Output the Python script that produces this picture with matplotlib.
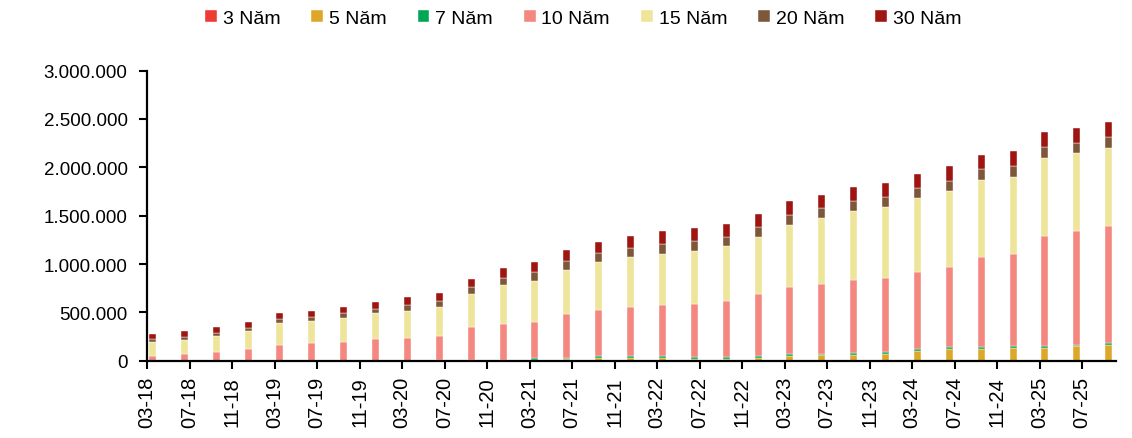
import numpy as np
import matplotlib
matplotlib.use("Agg")
import matplotlib.pyplot as plt
from matplotlib.ticker import FuncFormatter

plt.rcParams['font.family'] = ['Liberation Sans', 'DejaVu Sans']

# -------------------------
# Data (quarterly, 03-2018 .. 09-2025), values in thousands
# -------------------------
quarters = [f"{m:02d}-{y % 100:02d}" for y in range(2018, 2026) for m in (3, 6, 9, 12)][:31]

y3 = [0] * 31
y5 = [0, 0, 0, 0, 0, 0, 0, 0, 0, 0, 0, 0, 10, 15, 27, 30, 24, 20, 23, 33,
      52, 55, 62, 72, 97, 121, 117, 128, 131, 148, 162]
y7 = [0, 0, 0, 0, 0, 0, 0, 0, 0, 10, 10, 10, 15, 15, 20, 17, 20, 20, 20, 20,
      20, 17, 20, 20, 24, 20, 20, 20, 20, 17, 24]
y10 = [52, 69, 93, 124, 166, 180, 197, 221, 235, 241, 339, 370, 378, 453, 473, 512,
       535, 550, 578, 640, 694, 718, 756, 767, 793, 831, 939, 959, 1139, 1174, 1211]
y15 = [145, 148, 166, 186, 224, 231, 242, 269, 276, 307, 338, 403, 424, 455, 497, 514,
       524, 545, 563, 590, 641, 686, 711, 731, 766, 783, 797, 797, 807, 810, 807]
y20 = [28, 28, 28, 28, 38, 45, 55, 45, 65, 62, 72, 72, 93, 93, 93, 96,
       100, 100, 99, 97, 100, 100, 103, 103, 103, 107, 108, 111, 111, 103, 108]
y30 = [55, 62, 62, 62, 69, 62, 62, 69, 83, 80, 83, 100, 100, 111, 121, 121,
       134, 134, 131, 134, 145, 141, 142, 145, 148, 155, 151, 152, 155, 158, 161]

series = [("3 Năm", y3, '#EE3B34'),
          ("5 Năm", y5, '#DDA829'),
          ("7 Năm", y7, '#00A651'),
          ("10 Năm", y10, '#F4877F'),
          ("15 Năm", y15, '#EEE59A'),
          ("20 Năm", y20, '#7E573B'),
          ("30 Năm", y30, '#9E1511')]

tick_labels = [f"{m:02d}-{y % 100:02d}" for y in range(2018, 2026) for m in (3, 7, 11)][:23]

# month index from 03-2018
x = np.arange(len(quarters)) * 3 + 0.5
tick_pos = np.arange(len(tick_labels)) * 4

# -------------------------
# Plot
# -------------------------
fig = plt.figure(figsize=(11.32, 4.39), dpi=100)
ax = fig.add_axes([0.130, 0.176, 0.856, 0.661])

bottom = np.zeros(len(quarters))
for name, vals, col in series:
    v = np.array(vals) * 1000.0
    ax.bar(x, v, width=0.66, bottom=bottom, color=col, label=name,
           edgecolor='white', linewidth=0.3)
    bottom += v

ax.set_xlim(0, 91.2)
ax.set_ylim(0, 3000000)
ax.set_yticks(np.arange(0, 3000001, 500000))
ax.yaxis.set_major_formatter(FuncFormatter(lambda v, p: f"{int(v):,}".replace(",", ".")))

ax.set_xticks(tick_pos)
ax.set_xticklabels(tick_labels, rotation=90, fontsize=14.5)
ax.tick_params(axis='y', labelsize=13.5, direction='out', length=6, width=1.5, pad=8)
ax.tick_params(axis='x', direction='out', length=6, width=1.5, pad=5)

for s in ['top', 'right']:
    ax.spines[s].set_visible(False)
for s in ['left', 'bottom']:
    ax.spines[s].set_linewidth(1.6)

ax.legend(loc='center', bbox_to_anchor=(0.45, 1.18), ncol=7, frameon=False,
          fontsize=14, handlelength=0.6, handleheight=0.6, handletextpad=0.3,
          columnspacing=1.6)

fig.savefig("out.png", dpi=100)
